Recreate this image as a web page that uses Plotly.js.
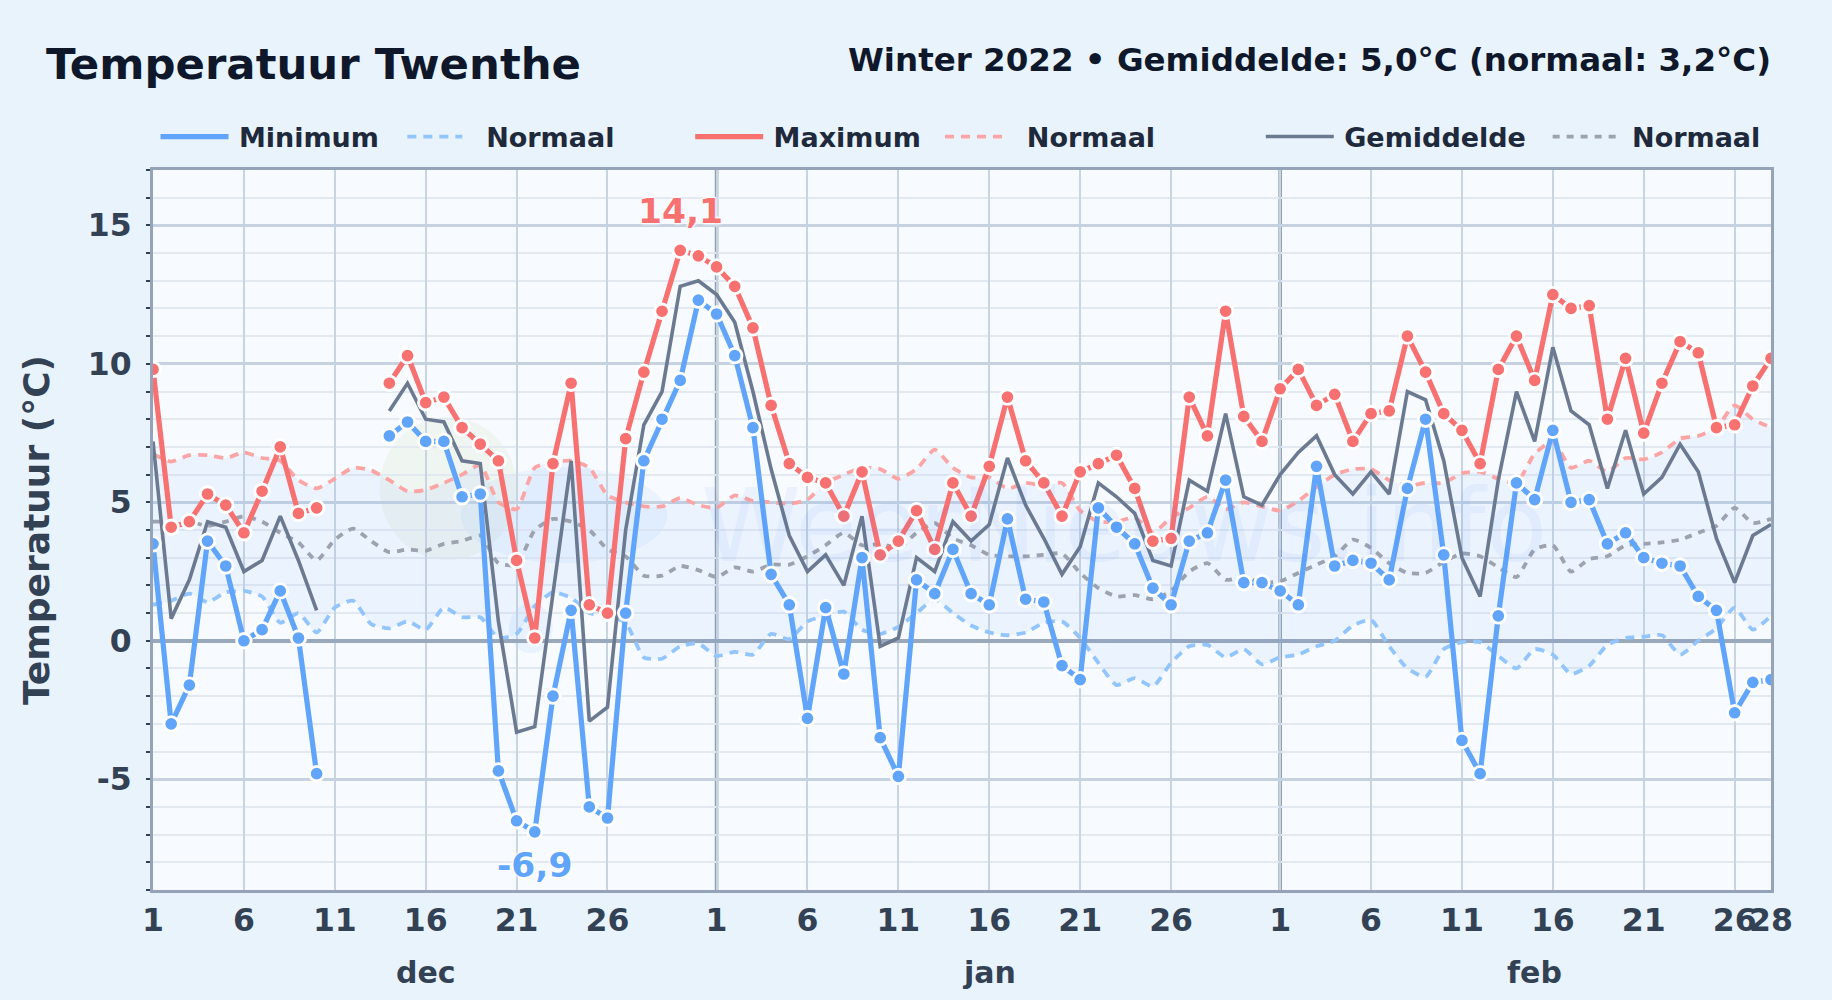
<!DOCTYPE html>
<html>
<head>
<meta charset="utf-8">
<script src="https://cdn.plot.ly/plotly-3.0.1.min.js"></script>
<style>html,body{margin:0;padding:0;background:#e8f3fc}</style>
</head>
<body>
<div id="chart" style="width:1832px;height:1000px"></div>
<script>
const months = ['dec','jan','feb'];
const monthLengths = [31,31,28];
const minimum = [3.5,-3.0,-1.6,3.6,2.7,0,0.4,1.8,0.1,-4.8,null,null,null,7.4,7.9,7.2,7.2,5.2,5.3,-4.7,-6.5,-6.9,-2,1.1,-6.0,-6.4,1.0,6.5,8.0,9.4,12.3,
 11.8,10.3,7.7,2.4,1.3,-2.8,1.2,-1.2,3.0,-3.5,-4.9,2.2,1.7,3.3,1.7,1.3,4.4,1.5,1.4,-0.9,-1.4,4.8,4.1,3.5,1.9,1.3,3.6,3.9,5.8,2.1,2.1,
 1.8,1.3,6.3,2.7,2.9,2.8,2.2,5.5,8.0,3.1,-3.6,-4.8,0.9,5.7,5.1,7.6,5.0,5.1,3.5,3.9,3.0,2.8,2.7,1.6,1.1,-2.6,-1.5,-1.4];
const maximum = [9.8,4.1,4.3,5.3,4.9,3.9,5.4,7.0,4.6,4.8,null,null,null,9.3,10.3,8.6,8.8,7.7,7.1,6.5,2.9,0.1,6.4,9.3,1.3,1.0,7.3,9.7,11.9,14.1,13.9,
 13.5,12.8,11.3,8.5,6.4,5.9,5.7,4.5,6.1,3.1,3.6,4.7,3.3,5.7,4.5,6.3,8.8,6.5,5.7,4.5,6.1,6.4,6.7,5.5,3.6,3.7,8.8,7.4,11.9,8.1,7.2,
 9.1,9.8,8.5,8.9,7.2,8.2,8.3,11.0,9.7,8.2,7.6,6.4,9.8,11.0,9.4,12.5,12.0,12.1,8.0,10.2,7.5,9.3,10.8,10.4,7.7,7.8,9.2,10.2];
const gemiddelde = [7.2,0.8,2.2,4.3,4.1,2.5,2.9,4.5,2.9,1.1,null,null,null,8.3,9.3,8.0,7.9,6.5,6.4,0.7,-3.3,-3.1,1.8,6.5,-2.9,-2.4,4.0,7.8,9.0,12.8,13.0,
 12.5,11.5,9.0,6.2,3.8,2.5,3.1,2.0,4.5,-0.2,0.1,3.0,2.5,4.3,3.6,4.2,6.6,4.9,3.7,2.4,3.4,5.7,5.2,4.6,2.9,2.7,5.8,5.4,8.2,5.2,4.9,
 6.0,6.8,7.4,6.0,5.3,6.1,5.3,9.0,8.7,6.5,3.0,1.6,5.8,9.0,7.2,10.6,8.3,7.8,5.5,7.6,5.3,5.9,7.1,6.1,3.7,2.1,3.8,4.2];
const normaalMin = [1.3,1.45,1.7,1.4,1.75,1.8,1.6,0.65,1.0,0.3,1.2,1.45,0.6,0.45,0.7,0.4,1.2,0.85,0.85,0.1,0.25,1.25,1.75,1.55,1.0,0.9,0.65,-0.6,-0.65,-0.2,-0.1,
 -0.55,-0.4,-0.5,0.25,0.05,0.7,0.9,1.05,0.4,0.25,0.5,1.0,1.5,1.0,0.55,0.3,0.2,0.3,0.65,0.7,0.1,-0.8,-1.6,-1.35,-1.65,-0.8,-0.2,-0.15,-0.6,-0.3,-0.85,
 -0.6,-0.5,-0.2,0,0.55,0.75,-0.2,-1.0,-1.3,-0.3,-0.05,-0.05,-0.55,-1.0,-0.3,-0.5,-1.2,-0.9,-0.15,0.1,0.15,0.2,-0.5,0,0.45,1.2,0.4,0.9];
const normaalMax = [6.75,6.47,6.7,6.7,6.6,6.8,6.6,6.5,5.8,5.5,5.85,6.25,6.15,5.8,5.4,5.45,5.7,6.0,6.35,5.0,4.75,6.25,6.45,6.5,6.25,5.25,5.0,4.85,4.85,5.15,4.9,
 4.8,5.25,5.05,5.0,4.95,5.1,5.7,6.0,6.25,6.2,5.85,6.2,6.9,6.25,5.9,5.9,5.5,5.7,5.6,5.7,4.7,4.3,4.3,4.45,3.9,4.45,4.8,5.2,4.75,5.0,4.85,
 4.7,5.05,5.55,6.0,6.2,6.2,5.8,5.6,5.7,5.7,6.05,6.1,5.85,5.7,6.75,7.2,6.25,6.5,6.1,6.6,6.55,6.8,7.3,7.4,7.7,8.5,8.0,7.7];
const normaalGem = [4.3,4.3,4.3,4.15,4.3,4.5,4.3,3.9,3.55,2.9,3.65,4.05,3.6,3.2,3.3,3.25,3.5,3.6,3.8,2.8,2.75,4.0,4.4,4.3,4.0,3.3,3.05,2.35,2.35,2.7,2.55,
 2.3,2.65,2.5,2.75,2.75,3.05,3.45,3.9,3.45,3.5,3.35,3.9,4.25,3.7,3.45,3.1,3.05,3.05,3.1,3.15,2.45,1.9,1.6,1.65,1.5,1.8,2.5,2.8,2.2,2.3,2.1,
 2.15,2.45,2.75,3.05,3.65,3.35,2.8,2.45,2.45,2.85,3.15,3.05,2.65,2.3,3.3,3.45,2.5,2.95,3.05,3.45,3.5,3.55,3.65,3.9,4.15,4.8,4.25,4.4];
const dayTicks = [1,6,11,16,21,26];
const yTicks = [15,10,5,0,-5];
const yTickText = ['15','10','5','0','-5'];

const F = '"DejaVu Sans", sans-serif';
const xs = minimum.map((_, i) => i);
const monthStart = monthLengths.map((_, m) => monthLengths.slice(0, m).reduce((a, b) => a + b, 0));
const tickvals = [], ticktext = [];
months.forEach((_, m) => {
  dayTicks.forEach(d => { tickvals.push(monthStart[m] + d - 1); ticktext.push(String(d)); });
});
tickvals.push(monthStart[2] + monthLengths[2] - 1); ticktext.push(String(monthLengths[2]));

const C = {min:'#60a5fa', max:'#f87171', avg:'#6b7a90', nmin:'#93c5fd', nmax:'#fca5a5', ngem:'#9ca3af'};
const smooth = {shape:'spline', smoothing:0.55};
const lg = (id, name) => ({legend:id, name:name, showlegend:true});
const traces = [
  {x:xs, y:normaalMax, mode:'lines', line:{color:'rgba(0,0,0,0)', width:0, ...smooth}, showlegend:false, hoverinfo:'skip'},
  {x:xs, y:normaalMin, mode:'lines', line:{color:'rgba(0,0,0,0)', width:0, ...smooth}, fill:'tonexty', fillcolor:'rgba(96,165,250,0.08)', showlegend:false, hoverinfo:'skip'},
  {x:xs, y:normaalMin, mode:'lines', line:{color:C.nmin, width:3.8, dash:'9px,7px', ...smooth}, ...lg('legend2','\u00a0\u00a0Normaal')},
  {x:xs, y:normaalMax, mode:'lines', line:{color:C.nmax, width:3.8, dash:'9px,7px', ...smooth}, ...lg('legend4','\u00a0\u00a0Normaal')},
  {x:xs, y:normaalGem, mode:'lines', line:{color:C.ngem, width:3.8, dash:'7px,7px', ...smooth}, ...lg('legend6','\u00a0Normaal')},
  {x:xs, y:gemiddelde, mode:'lines', line:{color:C.avg, width:3.6}, ...lg('legend5','\u2009Gemiddelde')},
  {x:xs, y:minimum, mode:'lines', line:{color:C.min, width:5.2}, ...lg('legend','\u2009Minimum')},
  {x:xs, y:minimum, mode:'markers', marker:{color:C.min, size:14.5, line:{color:'#ffffff', width:2.8}}, showlegend:false},
  {x:xs, y:maximum, mode:'lines', line:{color:C.max, width:5.2}, ...lg('legend3','\u2009Maximum')},
  {x:xs, y:maximum, mode:'markers', marker:{color:C.max, size:14.5, line:{color:'#ffffff', width:2.8}}, showlegend:false}
];

const L = 152.5, R = 60.5, T = 170, B = 110, W = 1832, H = 1000;
const PW = W - L - R, PH = H - T - B;
const legendAt = (px, iw) => ({
  x:(px - 5 - L) / PW, xanchor:'left', y:1 + 33 / PH, yanchor:'middle',
  orientation:'h', bgcolor:'rgba(0,0,0,0)', borderwidth:0, itemwidth:iw, itemclick:false,
  font:{family:F, size:27, color:'#1e293b', weight:700}, tracegroupgap:0, traceorder:'normal'
});
const hi = maximum.indexOf(Math.max(...maximum.filter(v => v !== null)));
const lo = minimum.indexOf(Math.min(...minimum.filter(v => v !== null)));
const halo = 'white 0 0 3px, white 0 0 3px, white 0 0 4px';
const blob = (x0, x1, y0, y1, c) => ({type:'circle', xref:'paper', yref:'paper', layer:'below', x0, x1, y0, y1, fillcolor:c, line:{width:0}});

const layout = {
  width:W, height:H, paper_bgcolor:'#e8f3fc', plot_bgcolor:'#f7faff',
  margin:{l:L, r:R, t:T, b:B, autoexpand:false},
  showlegend:true, hovermode:false,
  font:{family:F, color:'#334155'},
  title:{text:'Temperatuur Twenthe', x:46/W, xanchor:'left', y:1-64/H, yanchor:'middle', xref:'container', yref:'container',
         font:{family:F, size:43.4, color:'#0f172a', weight:700}},
  legend:{...legendAt(160,68)}, legend2:{...legendAt(407,55)}, legend3:{...legendAt(695,68)},
  legend4:{...legendAt(945,58)}, legend5:{...legendAt(1266,68)}, legend6:{...legendAt(1553,65)},
  xaxis:{range:[0,xs.length-1], tickmode:'array', tickvals:tickvals, ticktext:ticktext, tickangle:0,
    showgrid:true, gridcolor:'#c9d4e1', gridwidth:2, zeroline:false,
    showline:true, linecolor:'#94a3b8', linewidth:3, mirror:true,
    ticks:'outside', ticklen:0, tickcolor:'rgba(0,0,0,0)',
    tickfont:{family:F, size:31.5, color:'#334155', weight:700}},
  yaxis:{range:[-9,17], tickmode:'array', tickvals:yTicks, ticktext:yTickText,
    showgrid:true, gridcolor:'#c6d2e0', gridwidth:3,
    zeroline:true, zerolinecolor:'#9aa8bb', zerolinewidth:4,
    showline:true, linecolor:'#94a3b8', linewidth:3, mirror:true,
    ticks:'outside', ticklen:12, tickcolor:'rgba(0,0,0,0)',
    minor:{dtick:1, showgrid:true, gridcolor:'#e3e9f1', gridwidth:2, ticks:'outside', ticklen:4, tickcolor:'#334155', tickwidth:2},
    tickfont:{family:F, size:31.5, color:'#334155', weight:700},
    title:{text:'Temperatuur (°C)', standoff:28, font:{family:F, size:36, color:'#334155', weight:700}}},
  shapes:[
    ...monthStart.slice(1).map(s => ({type:'line', xref:'x', yref:'paper', x0:s, x1:s, y0:0, y1:1, layer:'between', line:{color:'#8f9fb4', width:3.6}})),
    blob(0.14, 0.225, 0.458, 0.657, 'rgba(180,210,120,0.10)'),
    blob(0.19, 0.318, 0.454, 0.587, 'rgba(96,165,250,0.08)'),
    blob(0.22, 0.247, 0.329, 0.398, 'rgba(96,165,250,0.09)')
  ],
  annotations:[
    ...months.map((m, i) => ({text:m, xref:'x', yref:'paper', x:monthStart[i] + Math.floor(monthLengths[i]/2), y:-82/PH, xanchor:'center', yanchor:'middle', showarrow:false,
      font:{family:F, size:30, color:'#334155', weight:700}})),
    {text:'Winter 2022 • Gemiddelde: 5,0°C (normaal: 3,2°C)', xref:'paper', yref:'paper', x:1.001, y:1+(T-60)/PH, xanchor:'right', yanchor:'middle', showarrow:false,
      font:{family:F, size:32.5, color:'#0f172a', weight:700}},
    {text:String(maximum[hi]).replace('.',','), x:hi, y:maximum[hi], yshift:39, xref:'x', yref:'y', showarrow:false, xanchor:'center', yanchor:'middle',
      font:{family:F, size:34.5, color:C.max, weight:700, shadow:halo}},
    {text:String(minimum[lo]).replace('.',','), x:lo, y:minimum[lo], yshift:-33, xref:'x', yref:'y', showarrow:false, xanchor:'center', yanchor:'middle',
      font:{family:F, size:34.5, color:C.min, weight:700, shadow:halo}},
    {text:'WeerNieuws.info', xref:'paper', yref:'paper', x:0.6, y:0.506, xanchor:'center', yanchor:'middle', showarrow:false, opacity:0.05,
      font:{family:F, size:101, color:'#2563eb'}}
  ]
};
Plotly.newPlot('chart', traces, layout, {staticPlot:false, displayModeBar:false, responsive:false});
</script>
</body>
</html>
